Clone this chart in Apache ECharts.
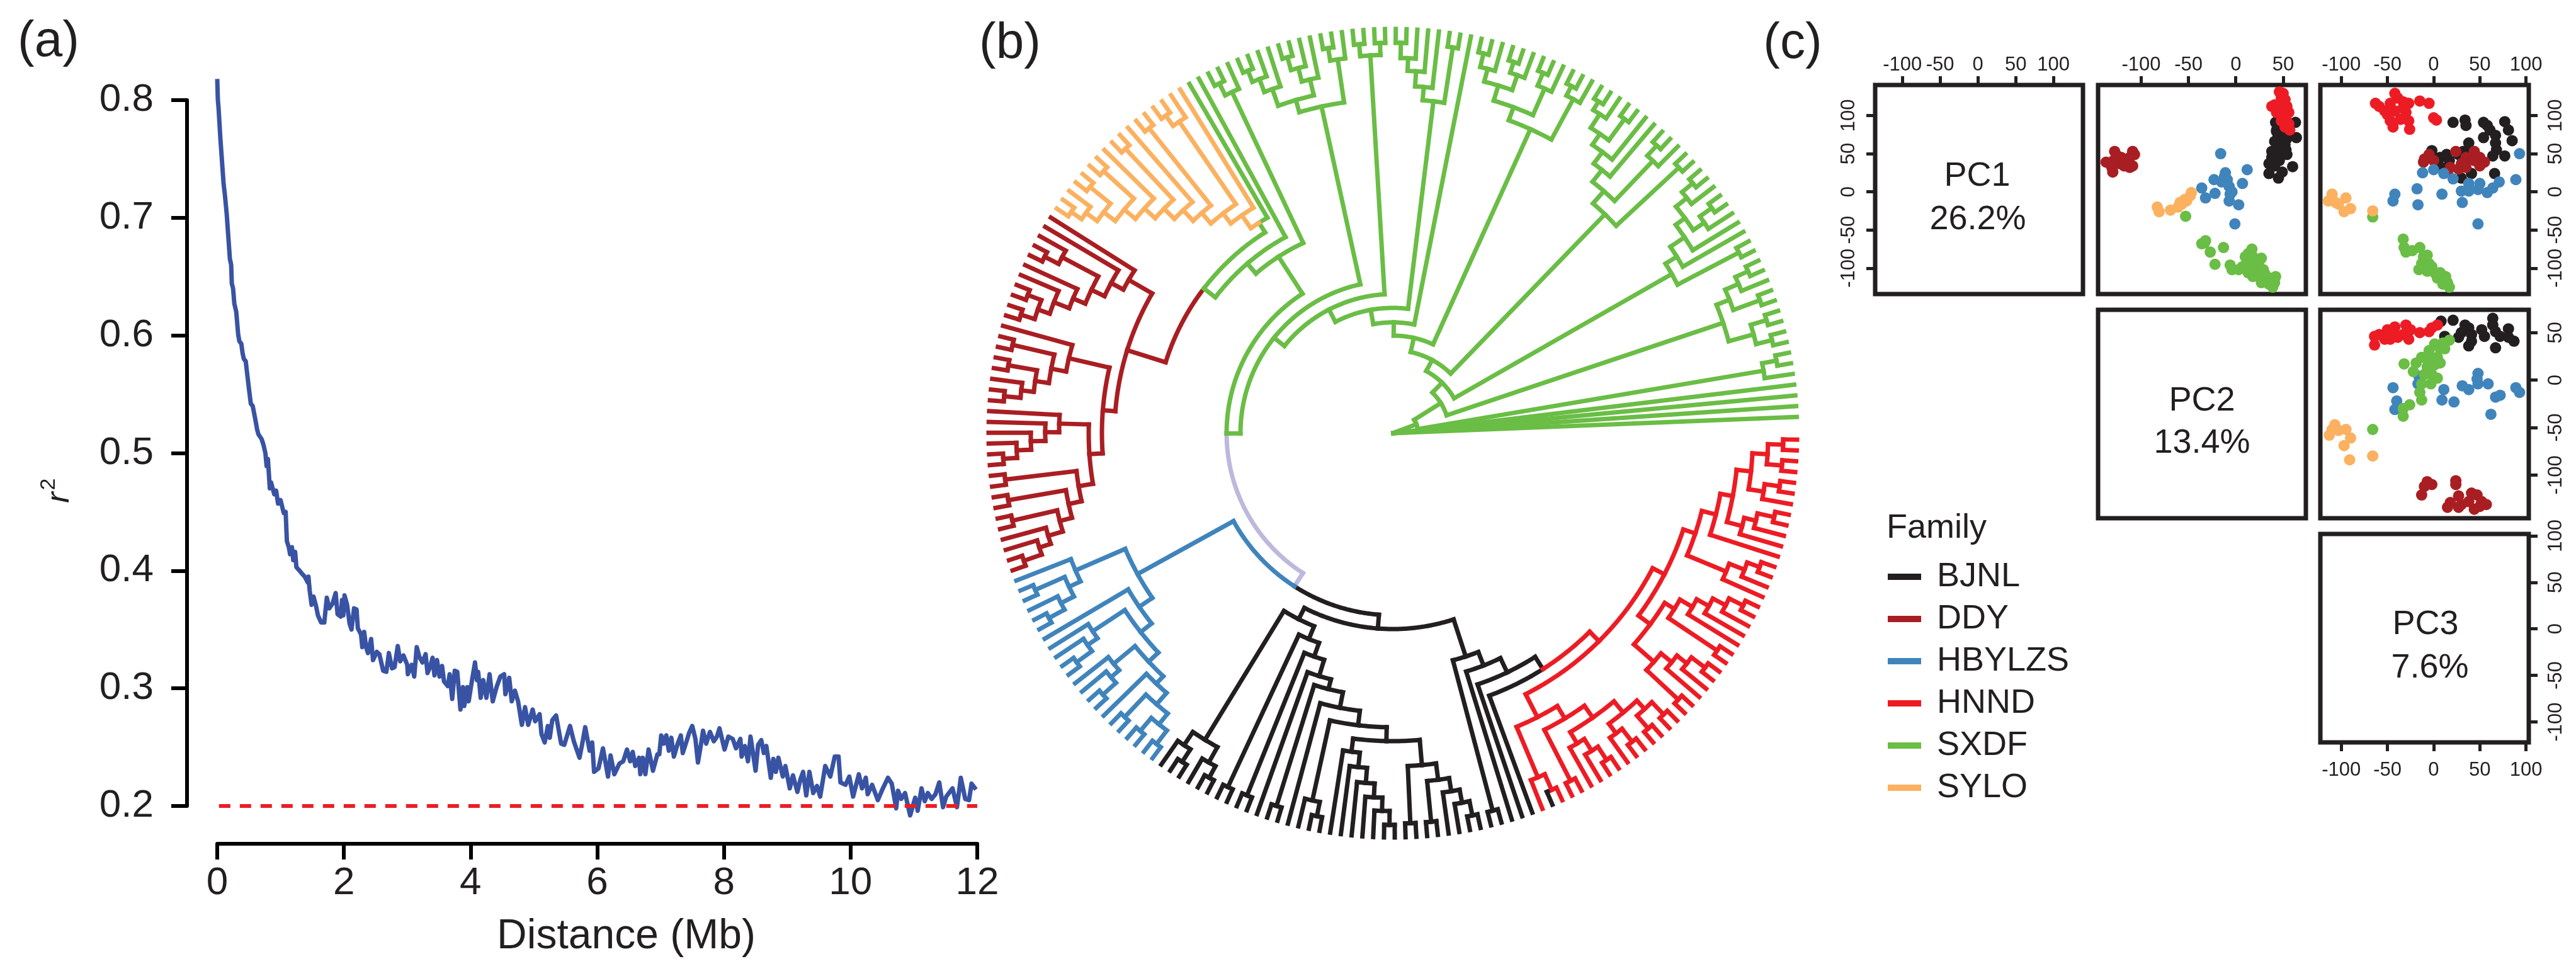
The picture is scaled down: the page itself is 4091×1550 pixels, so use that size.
<!DOCTYPE html>
<html><head><meta charset="utf-8">
<style>html,body{margin:0;padding:0;background:#fff}#c{width:4091px;height:1550px}</style>
<script src="https://cdn.jsdelivr.net/npm/echarts@6/dist/echarts.min.js"></script>
</head><body><div id="c"></div>
<script>
const FONT='"Liberation Sans",Arial,sans-serif';
const INK='#231F20';
const families=['BJNL','DDY','HBYLZS','HNND','SXDF','SYLO'];
const familyColors=['#231F20','#A91E22','#4084BC','#ED1C24','#6ABD45','#FBB160'];
const rootBranchColor='#BDB9DD';

// (a) LD decay: [distance Mb, r2]
const ldCurve=[[0,.818],[.01,.80],[.02,.794],[.05,.767],[.07,.752],[.10,.729],[.12,.72],[.15,.703],[.18,.68],[.20,.665],[.22,.66],[.23,.644],[.25,.64],[.27,.627],[.30,.62],[.33,.601],[.35,.595],[.38,.593],[.40,.585],[.42,.580],[.45,.578],[.48,.564],[.50,.555],[.53,.542],[.56,.54],[.60,.529],[.63,.52],[.65,.516],[.70,.512],[.73,.507],[.76,.50],[.78,.489],[.80,.495],[.83,.470],[.85,.475],[.90,.465],[.93,.468],[.96,.457],[1.0,.46],[1.05,.449],[1.08,.45],[1.10,.425],[1.13,.42],[1.15,.414],[1.18,.42],[1.2,.409],[1.23,.416],[1.25,.403],[1.30,.40],[1.33,.398],[1.38,.395],[1.43,.39],
[1.44,.395],[1.46,.383],[1.49,.371],[1.52,.378],[1.56,.370],[1.59,.362],[1.64,.356],[1.69,.356],[1.73,.377],[1.77,.368],[1.82,.372],[1.87,.381],[1.90,.363],[1.95,.361],[1.97,.375],[1.99,.362],[2.01,.379],[2.05,.371],[2.09,.355],[2.12,.350],[2.16,.368],[2.20,.367],[2.22,.351],[2.27,.346],[2.29,.335],[2.32,.348],[2.35,.335],[2.38,.330],[2.43,.342],[2.46,.324],[2.52,.331],[2.56,.329],[2.62,.315],[2.67,.314],[2.71,.330],[2.76,.317],[2.80,.318],[2.85,.336],[2.89,.323],[2.94,.328],[3.00,.320],[3.01,.312],[3.07,.320],[3.11,.310],[3.15,.335],[3.19,.327],[3.24,.322],[3.29,.329],[3.32,.313],[3.36,.318],[3.40,.326],[3.43,.311],[3.47,.324],[3.51,.310],[3.55,.319],[3.58,.306],[3.64,.302],[3.67,.312],[3.71,.291],[3.75,.315],[3.79,.314],[3.84,.282],[3.88,.301],[3.90,.285],[3.95,.301],[3.97,.289],[4.02,.306],[4.07,.322],[4.10,.307],[4.12,.314],[4.16,.292],[4.20,.307],[4.25,.292],[4.30,.312],[4.35,.289],[4.41,.301],[4.47,.310],[4.53,.312],[4.55,.295],[4.61,.309],[4.65,.289],[4.70,.298],[4.75,.289],[4.81,.269],[4.86,.284],[4.91,.269],[4.98,.282],[5.02,.272],[5.09,.278],[5.12,.261],[5.17,.254],[5.22,.268],[5.25,.258],[5.29,.273],[5.35,.277],[5.43,.253],[5.48,.252],[5.57,.268],[5.63,.255],[5.72,.241],[5.76,.252],[5.81,.267],[5.88,.247],[5.92,.254],[5.95,.229],[6.02,.232],[6.09,.249],
[6.17,.225],[6.21,.243],[6.27,.227],[6.35,.236],[6.41,.238],[6.47,.248],[6.52,.238],[6.56,.246],[6.60,.234],[6.66,.241],[6.68,.227],[6.72,.241],[6.76,.227],[6.81,.248],[6.88,.230],[6.95,.244],[6.98,.244],[7.01,.260],[7.05,.253],[7.09,.260],[7.13,.247],[7.17,.258],[7.21,.242],[7.27,.253],[7.32,.260],[7.35,.245],[7.41,.255],[7.45,.262],[7.50,.268],[7.55,.257],[7.59,.237],[7.64,.253],[7.67,.264],[7.72,.253],[7.78,.263],[7.84,.255],[7.89,.259],[7.93,.266],[8.01,.248],[8.07,.259],[8.14,.257],[8.19,.249],[8.26,.257],[8.28,.242],[8.33,.251],[8.38,.238],[8.42,.259],[8.50,.230],[8.54,.252],[8.59,.256],[8.63,.245],[8.67,.251],[8.74,.224],[8.78,.240],[8.82,.229],[8.86,.241],[8.93,.225],[8.97,.234],[9.04,.215],[9.09,.226],[9.16,.212],[9.21,.223],[9.25,.229],[9.30,.209],[9.35,.229],[9.41,.211],[9.47,.217],[9.52,.208],[9.60,.234],[9.68,.225],[9.75,.242],[9.81,.242],[9.84,.220],[9.92,.218],[9.98,.225],[10.04,.208],[10.13,.227],[10.18,.215],[10.24,.224],[10.27,.210],[10.34,.218],[10.43,.205],[10.51,.215],[10.59,.224],[10.65,.219],[10.72,.198],[10.75,.213],[10.80,.206],[10.86,.211],[10.94,.192],[11.02,.207],[11.06,.196],[11.12,.215],[11.17,.204],[11.22,.211],[11.28,.206],[11.34,.210],[11.40,.220],[11.46,.199],[11.51,.208],[11.61,.215],[11.68,.199],[11.74,.224],[11.81,.206],[11.87,.205],[11.91,.219],[11.98,.214]];
const ldBaseline=[[-0.3,0.2],[12,0.2]];
const xTicksA=[0,2,4,6,8,10,12];

// (b) tree: node = [height, child, child...], L = a tip, Y = a cherry near the rim
const L=0, Y=[620,L,L];
const tipHeight=642;
const treeSYLO=[421,L,[441,[600,L,Y],[463,Y,[486,L,[509,Y,[532,L,[555,Y,[578,Y,[600,L,Y]]]]]]]]];
const treeDDY=[442,
  [485,L,[507,L,[530,[595,L,Y],[551,L,[577,L,[597,Y,Y]]]]]],
  [462,[528,L,[552,Y,[574,Y,[594,L,Y]]]],
    [483,[530,L,[552,L,[575,L,[598,L,Y]]]],
         [506,Y,[527,Y,[547,Y,[571,L,[590,L,Y]]]]]]]];
const treeHBYLZS=[463,
  [549,L,[569,Y,[592,L,Y]]],
  [488,L,[510,[571,L,[590,L,Y]],[531,[575,L,[592,L,Y]],[547,L,[571,Y,[593,Y,Y]]]]]]];
const treeHNND=[465,
  [506,[593,L,[620,'BJNL',L]],[529,Y,[552,[573,L,[595,L,Y]],[575,[594,L,Y],[593,Y,Y]]]]],
  [486,
    [509,[551,Y,[573,L,[593,L,Y]]],[527,Y,[550,L,[572,L,[595,L,Y]]]]],
    [506,[573,L,[599,L,Y]],[529,L,[549,[574,L,[593,L,Y]],[572,[596,L,Y],[596,Y,Y]]]]]]];
const treeBJNL=[311,
  [331,[571,[596,L,Y],[599,L,Y]],
    [353,Y,[376,Y,[403,L,[419,Y,[444,L,[467,[597,L,Y],
      [489,[510,L,[533,L,[557,L,[579,L,[600,L,[622,L,L]]]]]],
           [529,Y,[555,Y,[576,L,[597,L,Y]]]]]]]]]]]],
  [373,Y,[396,L,[421,L,[444,L,treeHNND]]]]];
const rootBranch=[289,treeHBYLZS,treeBJNL];
const treeSXDF=[1,L,L,L,L,[40,[597,L,Y],
  [90,[553,[594,Y,Y],[575,Y,[598,L,Y]]],
  [112,[510,Y,[531,L,[558,L,[576,[597,L,Y],[598,L,Y]]]]],
  [132,[484,Y,[510,[598,L,Y],[534,L,[557,L,[578,Y,[604,L,Y]]]]]],
  [155,[530,[603,L,Y],[552,[598,L,Y],[577,[602,L,Y],[598,L,Y]]]],
  [176,L,
  [199,[531,Y,[552,L,[576,L,[596,L,Y]]]],
  [221,[601,Y,Y],
  [242,[531,[600,L,Y],[551,[577,L,[599,L,Y]],[579,L,[601,L,Y]]]],
  [264,[334,[599,L,Y],[355,L,[378,[396,L,treeSYLO],treeDDY]]],rootBranch]]]]]]]]]]];
const treeFamilies=new Map([[treeSYLO,'SYLO'],[treeDDY,'DDY'],[treeHBYLZS,'HBYLZS'],[treeHNND,'HNND'],[treeBJNL,'BJNL'],[rootBranch,'root'],[treeSXDF,'SXDF']]);

// (c) PCA scores by family
const pc2pc1BJNL=[[42,91],[63,91],[43,81],[43,68],[41,66],[54,70],[64,71],[52,62],[38,53],[49,53],[43,45],[38,45],[54,49],[35,37],[46,41],[60,33],[35,24],[49,26],[45,18],[52,74],[43,58],[53,55],[41,34],[43,79],[54,83]];
const pc2pc1DDY=[[-128,53],[-109,53],[-137,39],[-129,41],[-121,45],[-112,45],[-109,34],[-130,26],[-123,37],[-117,41],[-131,32],[-107,49],[-126,48],[-118,34],[-112,32]];
const pc2pc1HBYLZS=[[-16,50],[-11,25],[-23,16],[-9,16],[12,29],[7,11],[-36,5],[-7,7],[-4,0],[-22,-2],[-32,-8],[-7,-12],[3,-17],[-1,-42],[-15,13],[-12,20],[-6,-3]];
const pc2pc1HNND=[[50,129],[48,123],[52,121],[41,114],[46,114],[54,112],[50,108],[43,104],[56,104],[49,100],[53,95],[56,89],[52,85],[57,81],[48,93],[38,112],[49,116],[46,131],[53,103],[52,106]];
const pc2pc1SXDF=[[-53,-32],[-33,-67],[-36,-68],[-32,-64],[-27,-79],[-13,-73],[-22,-95],[-6,-96],[-4,-102],[13,-81],[17,-75],[10,-85],[18,-85],[24,-94],[13,-94],[7,-98],[21,-102],[29,-102],[13,-106],[18,-111],[24,-111],[29,-115],[35,-113],[42,-111],[27,-119],[35,-121],[39,-125],[41,-119],[16,-98],[27,-87],[3,-102],[31,-108]];
const pc2pc1SYLO=[[-83,-20],[-81,-26],[-69,-24],[-61,-20],[-59,-14],[-54,-10],[-48,-5],[-47,-1],[-57,-16],[-52,-12]];

const pc3pc1BJNL=[[21,91],[34,94],[35,87],[54,91],[58,87],[77,92],[81,81],[61,81],[54,71],[67,74],[85,67],[38,64],[67,64],[68,55],[-2,54],[14,49],[27,49],[38,50],[64,47],[77,47],[8,32],[34,36],[41,24],[30,18],[66,24],[17,41],[48,39],[7,45],[32,53]];
const pc3pc1DDY=[[-10,43],[-5,49],[24,53],[44,53],[50,45],[55,39],[35,45],[30,37],[18,32],[15,26],[27,30],[44,41],[-11,39],[0,41],[50,34],[35,32]];
const pc3pc1HBYLZS=[[93,50],[89,16],[71,13],[-12,25],[0,29],[11,24],[21,17],[38,11],[50,11],[64,5],[58,-1],[30,1],[48,3],[-18,4],[-42,-3],[-44,-12],[9,-3],[-17,-17],[31,-14],[48,-42],[38,1]];
const pc3pc1HNND=[[-42,129],[-39,123],[-63,116],[-59,112],[-47,116],[-33,118],[-27,116],[-15,119],[-5,116],[-53,106],[-42,106],[-30,104],[-47,93],[-36,95],[-27,93],[-44,85],[-26,82],[0,97],[3,94],[-50,101],[-33,110]];
const pc3pc1SXDF=[[-66,-33],[-33,-62],[-32,-73],[-30,-79],[-15,-73],[-23,-77],[-7,-83],[-13,-94],[-16,-102],[-5,-94],[-7,-104],[1,-106],[4,-113],[13,-111],[15,-119],[10,-121],[17,-125],[-2,-98],[7,-106],[12,-117],[-11,-85]];
const pc3pc1SYLO=[[-110,-3],[-114,-12],[-106,-14],[-95,-8],[-90,-22],[-97,-26],[-103,-16],[-66,-25],[-110,-10]];

const pc3pc2BJNL=[[8,62],[21,63],[34,58],[30,50],[38,55],[64,65],[64,58],[52,53],[81,54],[41,48],[55,46],[67,51],[72,46],[87,41],[38,36],[67,34],[81,45],[27,45],[41,41],[12,46]];
const pc3pc2DDY=[[-7,-107],[-10,-112],[-2,-110],[-13,-121],[24,-106],[24,-110],[27,-122],[18,-129],[15,-134],[30,-131],[41,-119],[47,-121],[38,-128],[52,-128],[57,-131],[44,-136],[27,-134],[50,-133]];
const pc3pc2HBYLZS=[[-44,-8],[-16,4],[-40,-22],[-42,-31],[11,-10],[9,-21],[22,-23],[31,-6],[38,-10],[48,7],[48,-4],[59,-4],[67,-18],[72,-16],[62,-36],[89,-8],[93,-13],[-17,-4],[47,1]];
const pc3pc2HNND=[[-64,46],[-59,48],[-64,37],[-53,43],[-44,50],[-42,56],[-30,58],[-33,48],[-25,53],[-39,45],[-47,43],[-27,43],[-15,50],[-5,51],[4,58],[-2,55],[-50,53]];
const pc3pc2SXDF=[[17,42],[10,39],[1,38],[-5,31],[7,33],[12,33],[-13,24],[-5,23],[4,24],[-19,18],[-7,14],[1,16],[7,18],[-32,17],[-22,9],[-10,6],[-2,6],[4,2],[-13,-4],[-3,-4],[-15,-13],[-13,-21],[-26,-26],[-33,-30],[-33,-38],[-66,-52]];
const pc3pc2SYLO=[[-110,-52],[-113,-58],[-107,-47],[-95,-52],[-90,-61],[-97,-69],[-91,-84],[-66,-80],[-103,-53]];

const pcaTicks=[-100,-50,0,50,100];
const pc1Range=[-136,139], pc1RangeY=[-134,140], pc2Range=[-145.5,74], pc3Range=[-122.7,103], pc3RangeY=[-122,102];
const pcLabels=[['PC1','26.2%'],['PC2','13.4%'],['PC3','7.6%']];

// ---------- tree layout: angle axis is counted in tips, radius axis in tree height
const branches={root:[]};families.forEach(f=>branches[f]=[]);
let tipIndex=0;
function layout(node,family,parentR){
  if(typeof node==='number'||typeof node==='string'){
    const fam=typeof node==='string'?node:family;
    tipIndex+=1;
    branches[fam].push([parentR,tipHeight,tipIndex,tipIndex]);
    return {a:tipIndex,fam};
  }
  const fam=treeFamilies.get(node)||family, r=node[0];
  const kids=node.slice(1).map(k=>layout(k,fam,r));
  const a=(kids[0].a+kids[kids.length-1].a)/2;
  kids.forEach(k=>branches[k.fam].push([r,r,a,k.a]));
  if(parentR!==null) branches[fam].push([parentR,r,a,a]);
  return {a,fam};
}
layout(treeSXDF,'SXDF',null);

function branchSeries(name,color,z){
  return {type:'custom',name,coordinateSystem:'polar',polarIndex:0,silent:true,animation:false,z,
    itemStyle:{color},encode:{radius:0,angle:2},data:branches[name==='root branch'?'root':name],
    renderItem(p,api){
      const r0=api.value(0),r1=api.value(1),a0=api.value(2),a1=api.value(3);
      const n=a0===a1?1:Math.max(2,Math.ceil(Math.abs(a1-a0)*3));
      const points=[];
      for(let i=0;i<=n;i++){const t=i/n;points.push(api.coord([r0+(r1-r0)*t,a0+(a1-a0)*t]));}
      return {type:'polyline',shape:{points},style:{stroke:color,fill:null,lineWidth:7,lineCap:'square',lineJoin:'round'}};
    }};
}

// ---------- panel (c) grids
const colX=[[2978,3308],[3332,3662],[3685,4016]];
const rowY=[[135,467],[492,823],[848,1179]];
const gridOf=(r,c)=>({left:colX[c][0],width:colX[c][1]-colX[c][0],top:rowY[r][0],height:rowY[r][1]-rowY[r][0],show:true,borderColor:INK,borderWidth:7,backgroundColor:'transparent'});
const tickAxis=(pos,range,ticks,gridIndex,vertical)=>{
  const shown=ticks&&ticks.length>0;
  return {type:'value',gridIndex,position:pos,min:range[0],max:range[1],splitLine:{show:false},
    axisLine:{show:false,onZero:false},
    axisTick:{show:shown,length:14,lineStyle:{color:INK,width:5},customValues:ticks||[]},
    axisLabel:{show:shown,customValues:ticks||[],hideOverlap:false,rotate:vertical?90:0,margin:vertical?(pos==='left'?26:28):(pos==='top'?16:29),
      fontFamily:FONT,fontSize:31,color:INK}};
};
const grids=[{left:345,width:1207,top:159,height:1121,show:false},
  gridOf(0,0),gridOf(0,1),gridOf(0,2),gridOf(1,1),gridOf(1,2),gridOf(2,2)];
const xAxes=[{type:'value',gridIndex:0,min:0,max:12,interval:2,offset:60,position:'bottom',
    axisLine:{onZero:false,lineStyle:{color:'#000',width:6}},axisTick:{length:25,lineStyle:{color:'#000',width:6}},
    splitLine:{show:false},axisLabel:{margin:32,fontFamily:FONT,fontSize:62,color:INK},
    name:'Distance (Mb)',nameLocation:'middle',nameGap:115,nameTextStyle:{fontFamily:FONT,fontSize:66,color:INK,padding:[0,0,0,92]}},
  tickAxis('top',pc1Range,pcaTicks,1),tickAxis('top',pc2Range,pcaTicks.slice(0,4),2),tickAxis('top',pc3Range,pcaTicks,3),
  tickAxis('bottom',pc2Range,null,4),tickAxis('bottom',pc3Range,null,5),tickAxis('bottom',pc3Range,pcaTicks,6)];
const yAxes=[{type:'value',gridIndex:0,min:0.2,max:0.8,interval:0.1,offset:48,position:'left',
    axisLine:{onZero:false,lineStyle:{color:'#000',width:6}},axisTick:{length:25,lineStyle:{color:'#000',width:6}},
    splitLine:{show:false},axisLabel:{margin:53,fontFamily:FONT,fontSize:62,color:INK,formatter:v=>v.toFixed(1)}},
  tickAxis('left',pc1RangeY,pcaTicks,1,true),tickAxis('left',pc1RangeY,null,2,true),tickAxis('right',pc1RangeY,pcaTicks,3,true),
  tickAxis('left',pc2Range,null,4,true),tickAxis('right',pc2Range,pcaTicks.slice(0,4),5,true),tickAxis('right',pc3RangeY,pcaTicks,6,true)];

const scatterSets=[
  [2,[pc2pc1BJNL,pc2pc1DDY,pc2pc1HBYLZS,pc2pc1HNND,pc2pc1SXDF,pc2pc1SYLO]],
  [3,[pc3pc1BJNL,pc3pc1DDY,pc3pc1HBYLZS,pc3pc1HNND,pc3pc1SXDF,pc3pc1SYLO]],
  [5,[pc3pc2BJNL,pc3pc2DDY,pc3pc2HBYLZS,pc3pc2HNND,pc3pc2SXDF,pc3pc2SYLO]]];
const scatterSeries=[];
scatterSets.forEach(([g,sets])=>sets.forEach((d,i)=>scatterSeries.push({type:'scatter',name:families[i],xAxisIndex:g,yAxisIndex:g,data:d,symbolSize:18,silent:true,animation:false,z:3+i,itemStyle:{color:familyColors[i],opacity:1}})));

const txt=(text,x,y,size,extra)=>Object.assign({type:'text',x,y,silent:true,style:{text,fill:INK,font:`${(extra&&extra.fontStyle)||'normal'} ${size}px ${FONT}`,textAlign:'center',textVerticalAlign:'middle',align:'center',verticalAlign:'middle'}},extra&&extra.el);
const graphics=[
  txt('(a)',77,67,80),txt('(b)',1604,70,80),txt('(c)',2847,70,80),
  txt('r',95,790,52,{fontStyle:'italic',el:{rotation:Math.PI/2}}),txt('2',78,769,34,{el:{rotation:Math.PI/2}}),
  txt(pcLabels[0][0],3140,280,54),txt(pcLabels[0][1],3141,349,54),
  txt(pcLabels[1][0],3497,637,54),txt(pcLabels[1][1],3497,704,54),
  txt(pcLabels[2][0],3852,992,54),txt(pcLabels[2][1],3859,1061,54),
  Object.assign(txt('Family',2996,839,54),{}) 
];
graphics[graphics.length-1].style.textAlign='left';graphics[graphics.length-1].style.align='left';

const chart=echarts.init(document.getElementById('c'),null,{renderer:'canvas',devicePixelRatio:1,width:4091,height:1550});
chart.setOption({
  backgroundColor:'#fff',animation:false,
  grid:grids,xAxis:xAxes,yAxis:yAxes,
  polar:{center:[2212,688],radius:642},
  radiusAxis:{polarIndex:0,type:'value',min:0,max:642,show:false},
  angleAxis:{polarIndex:0,type:'value',min:0,max:235.1,startAngle:0.77,clockwise:false,show:false},
  legend:{data:families,left:2993,top:884,orient:'vertical',icon:'rect',itemWidth:53,itemHeight:10,itemGap:13,selectedMode:false,
    textStyle:{fontFamily:FONT,fontSize:54,lineHeight:54,color:INK,padding:[0,0,0,20]}},
  graphic:graphics,
  series:[
    {type:'line',name:'r2',xAxisIndex:0,yAxisIndex:0,data:ldCurve,showSymbol:false,clip:false,silent:true,animation:false,z:2,lineStyle:{color:'#3953A4',width:7,join:'round'},itemStyle:{color:'#3953A4'}},
    {type:'line',name:'baseline',xAxisIndex:0,yAxisIndex:0,data:ldBaseline,showSymbol:false,clip:false,silent:true,animation:false,z:3,lineStyle:{color:'#ED1C24',width:6,type:[18,15]},itemStyle:{color:'#ED1C24'}},
    branchSeries('root branch',rootBranchColor,2),
    ...families.map((f,i)=>branchSeries(f,familyColors[i],3)),
    ...scatterSeries
  ]
});
</script></body></html>
